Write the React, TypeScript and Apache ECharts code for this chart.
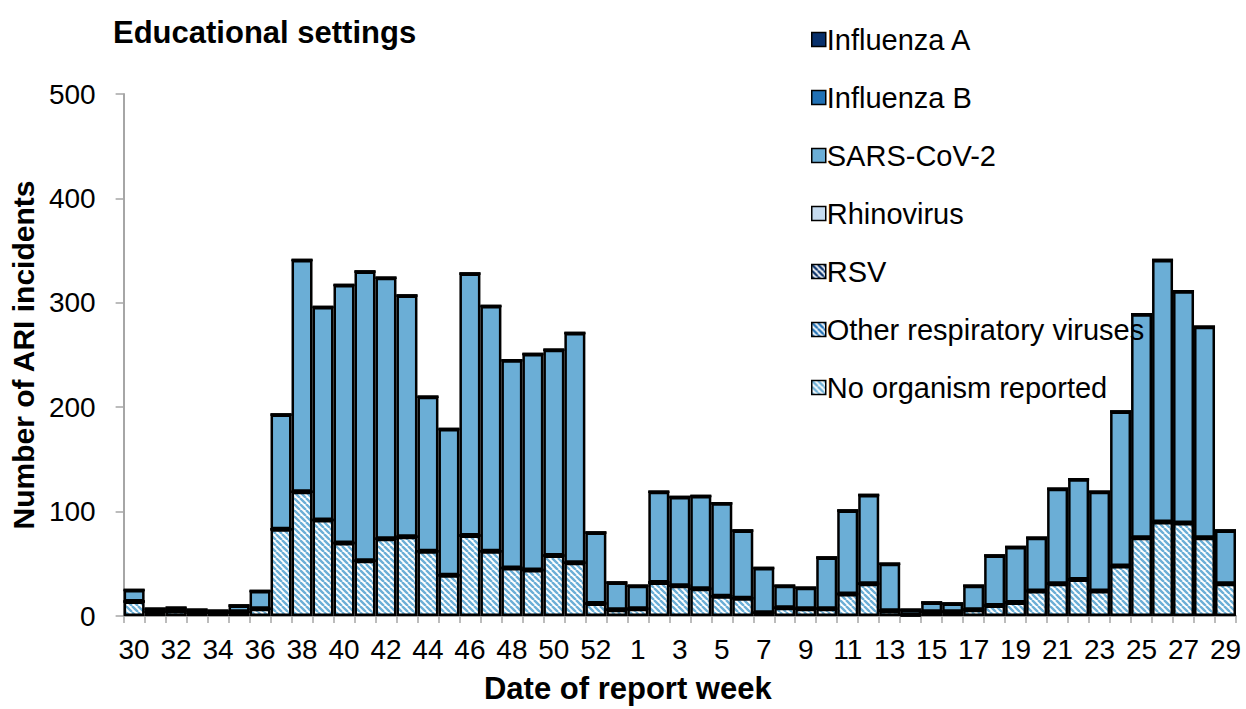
import React, { useEffect, useRef } from "react";
import * as echarts from "echarts";

const weeks = [
  "30", "31", "32", "33", "34", "35", "36", "37", "38", "39", "40", "41", "42", "43", "44", "45", "46", "47", "48", "49", "50", "51", "52", "53",
  "1", "2", "3", "4", "5", "6", "7", "8", "9", "10", "11", "12", "13", "14", "15", "16", "17", "18", "19", "20", "21", "22", "23", "24", "25", "26", "27", "28", "29",
];

const noOrganism = [
  14, 4, 5, 3, 3, 4, 7, 83, 119, 92, 70, 53, 74, 76, 62, 39, 77, 62, 46, 44, 58, 51, 12, 6,
  7, 32, 29, 26, 19, 17, 3, 8, 7, 7, 21, 31, 5, 1, 4, 4, 6, 10, 13, 24, 31, 35, 24, 48, 75, 90, 89, 75, 31,
];
const otherResp = [
  0, 0, 0, 0, 0, 0, 0, 0, 0, 0, 0, 0, 0, 0, 0, 0, 0, 0, 0, 0, 0, 0, 0, 0,
  0, 0, 0, 0, 0, 0, 0, 0, 0, 0, 0, 0, 0, 0, 0, 0, 0, 0, 0, 0, 0, 0, 0, 0, 0, 0, 0, 0, 0,
];
const rsv = [
  0, 0, 0, 0, 0, 0, 0, 0, 0, 0, 0, 0, 0, 0, 0, 0, 0, 0, 0, 0, 0, 0, 0, 0,
  0, 0, 0, 0, 0, 0, 0, 0, 0, 0, 0, 0, 0, 0, 0, 0, 0, 0, 0, 0, 0, 0, 0, 0, 0, 0, 0, 0, 0,
];
const rhinovirus = [
  0, 0, 0, 0, 0, 0, 0, 0, 0, 0, 0, 0, 0, 0, 0, 0, 0, 0, 0, 0, 0, 0, 0, 0,
  0, 0, 0, 0, 0, 0, 0, 0, 0, 0, 0, 0, 0, 0, 0, 0, 0, 0, 0, 0, 0, 0, 0, 0, 0, 0, 0, 0, 0,
];
const sarsCov2 = [
  11, 3, 3, 3, 2, 6, 17, 110, 222, 204, 247, 277, 250, 231, 148, 140, 251, 235, 199, 207, 197, 220, 68, 26,
  22, 87, 85, 89, 89, 65, 43, 21, 20, 49, 80, 85, 45, 5, 9, 8, 23, 48, 53, 51, 91, 96, 95, 148, 214, 251, 222, 202, 51,
];
const influenzaB = [
  0, 0, 0, 0, 0, 0, 0, 0, 0, 0, 0, 0, 0, 0, 0, 0, 0, 0, 0, 0, 0, 0, 0, 0,
  0, 0, 0, 0, 0, 0, 0, 0, 0, 0, 0, 0, 0, 0, 0, 0, 0, 0, 0, 0, 0, 0, 0, 0, 0, 0, 0, 0, 0,
];
const influenzaA = [
  0, 0, 0, 0, 0, 0, 0, 0, 0, 0, 0, 0, 0, 0, 0, 0, 0, 0, 0, 0, 0, 0, 0, 0,
  0, 0, 0, 0, 0, 0, 0, 0, 0, 0, 0, 0, 0, 0, 0, 0, 0, 0, 0, 0, 0, 0, 0, 0, 0, 0, 0, 0, 0,
];

const yTicks = [0, 100, 200, 300, 400, 500];
const legendOrder = [
  "Influenza A",
  "Influenza B",
  "SARS-CoV-2",
  "Rhinovirus",
  "RSV",
  "Other respiratory viruses",
  "No organism reported",
];

const FONT = "'Liberation Sans', Arial, Helvetica, sans-serif";

function makeStripe(color: string) {
  const s = 6;
  const c = document.createElement("canvas");
  c.width = s;
  c.height = s;
  const ctx = c.getContext("2d")!;
  ctx.fillStyle = "#ffffff";
  ctx.fillRect(0, 0, s, s);
  ctx.strokeStyle = color;
  ctx.lineWidth = 2.4;
  ctx.beginPath();
  for (const o of [-s, 0, s]) {
    ctx.moveTo(o, 0);
    ctx.lineTo(o + s, s);
  }
  ctx.stroke();
  return { image: c, repeat: "repeat", imageWidth: s, imageHeight: s } as any;
}

export default function App() {
  const ref = useRef<HTMLDivElement>(null);
  useEffect(() => {
    if (!ref.current) return;
    const chart = echarts.init(ref.current, null, { renderer: "svg" });
    const border = { borderColor: "#000000", borderWidth: 2.5 };
    const mk = (name: string, data: number[], color: any) => ({
      name,
      type: "bar",
      stack: "total",
      data,
      barCategoryGap: "0%",
      itemStyle: { color, ...border },
      emphasis: { disabled: true },
    });
    const option: any = {
      animation: false,
      backgroundColor: "#ffffff",
      title: {
        text: "Educational settings",
        left: 108,
        top: 12,
        textStyle: { fontFamily: FONT, fontSize: 31, fontWeight: "bold", color: "#000" },
      },
      legend: {
        orient: "vertical",
        left: 806,
        top: 20,
        itemWidth: 14,
        itemHeight: 14,
        itemGap: 29,
        icon: "rect",
        data: legendOrder,
        itemStyle: { borderColor: "#000", borderWidth: 1.5 },
        textStyle: { fontFamily: FONT, fontSize: 29, color: "#000", padding: [0, 0, 0, -4] },
      },
      grid: { left: 122, right: 10, top: 94, bottom: 91, containLabel: false },
      xAxis: {
        type: "category",
        data: weeks,
        boundaryGap: true,
        name: "Date of report week",
        nameLocation: "middle",
        nameGap: 57,
        nameTextStyle: {
          fontFamily: FONT,
          fontSize: 31,
          fontWeight: "bold",
          color: "#000",
          padding: [0, 104, 0, 0],
        },
        axisLine: { show: true, lineStyle: { color: "#A6A6A6", width: 2 } },
        axisTick: { show: true, interval: 0, length: 7, lineStyle: { color: "#A6A6A6", width: 1.5 } },
        axisLabel: { interval: 1, margin: 19, fontFamily: FONT, fontSize: 28, color: "#000" },
        splitLine: { show: false },
      },
      yAxis: {
        type: "value",
        min: 0,
        max: 500,
        interval: 100,
        name: "Number of ARI incidents",
        nameLocation: "middle",
        nameGap: 82,
        nameRotate: 90,
        nameTextStyle: { fontFamily: FONT, fontSize: 30, fontWeight: "bold", color: "#000" },
        axisLine: { show: true, lineStyle: { color: "#A6A6A6", width: 2 } },
        axisTick: { show: true, length: 8, lineStyle: { color: "#A6A6A6", width: 1.5 } },
        axisLabel: {
          margin: 28,
          fontFamily: FONT,
          fontSize: 28,
          color: "#000",
          formatter: (v: number) => (yTicks.includes(v) ? String(v) : ""),
        },
        splitLine: { show: false },
      },
      series: [
        mk("No organism reported", noOrganism, makeStripe("#6BAED6")),
        mk("Other respiratory viruses", otherResp, makeStripe("#2171B5")),
        mk("RSV", rsv, makeStripe("#08306B")),
        mk("Rhinovirus", rhinovirus, "#C6DBEF"),
        mk("SARS-CoV-2", sarsCov2, "#6BAED6"),
        mk("Influenza B", influenzaB, "#2171B5"),
        mk("Influenza A", influenzaA, "#08306B"),
      ],
    };
    chart.setOption(option);
    return () => chart.dispose();
  }, []);
  return (
    <div
      ref={ref}
      style={{ position: "fixed", left: 0, top: 0, width: 1246, height: 709, background: "#fff" }}
    />
  );
}
